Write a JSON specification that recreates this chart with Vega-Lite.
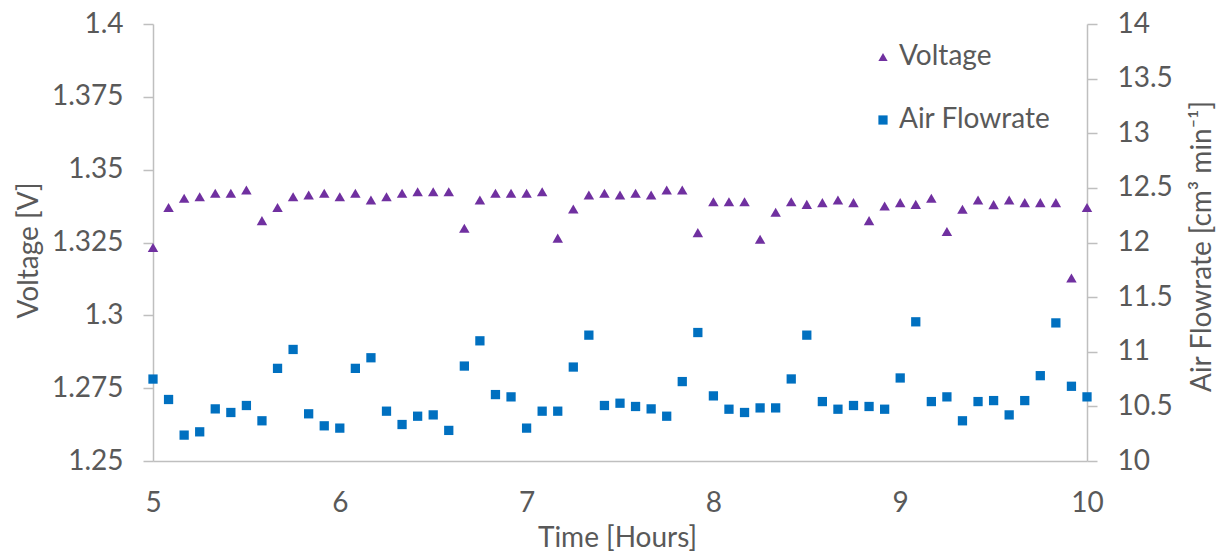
{
  "$schema": "https://vega.github.io/schema/vega-lite/v6.json",
  "width": 934,
  "height": 437,
  "autosize": {"type": "none"},
  "padding": {"left": 153, "top": 24, "right": 134, "bottom": 91},
  "background": "white",
  "config": {
    "font": "Lato",
    "view": {"stroke": null},
    "axis": {
      "grid": false,
      "domainColor": "#bfbfbf",
      "domainWidth": 1.5,
      "tickColor": "#bfbfbf",
      "tickWidth": 1.5,
      "labelFontSize": 28,
      "labelColor": "#595959",
      "titleFontSize": 28,
      "titleFontWeight": "normal",
      "titleColor": "#595959"
    }
  },
  "data": {
    "values": [
      {"time": 5.0, "series": "Voltage", "value": 1.3233},
      {"time": 5.0833, "series": "Voltage", "value": 1.337},
      {"time": 5.1667, "series": "Voltage", "value": 1.3402},
      {"time": 5.25, "series": "Voltage", "value": 1.3407},
      {"time": 5.3333, "series": "Voltage", "value": 1.3419},
      {"time": 5.4167, "series": "Voltage", "value": 1.3419},
      {"time": 5.5, "series": "Voltage", "value": 1.343},
      {"time": 5.5833, "series": "Voltage", "value": 1.3325},
      {"time": 5.6667, "series": "Voltage", "value": 1.337},
      {"time": 5.75, "series": "Voltage", "value": 1.3407},
      {"time": 5.8333, "series": "Voltage", "value": 1.3413},
      {"time": 5.9167, "series": "Voltage", "value": 1.3419},
      {"time": 6.0, "series": "Voltage", "value": 1.3407},
      {"time": 6.0833, "series": "Voltage", "value": 1.3419},
      {"time": 6.1667, "series": "Voltage", "value": 1.3396},
      {"time": 6.25, "series": "Voltage", "value": 1.3407},
      {"time": 6.3333, "series": "Voltage", "value": 1.3419},
      {"time": 6.4167, "series": "Voltage", "value": 1.3424},
      {"time": 6.5, "series": "Voltage", "value": 1.3424},
      {"time": 6.5833, "series": "Voltage", "value": 1.3424},
      {"time": 6.6667, "series": "Voltage", "value": 1.3299},
      {"time": 6.75, "series": "Voltage", "value": 1.3396},
      {"time": 6.8333, "series": "Voltage", "value": 1.3419},
      {"time": 6.9167, "series": "Voltage", "value": 1.3419},
      {"time": 7.0, "series": "Voltage", "value": 1.3419},
      {"time": 7.0833, "series": "Voltage", "value": 1.3424},
      {"time": 7.1667, "series": "Voltage", "value": 1.3265},
      {"time": 7.25, "series": "Voltage", "value": 1.3365},
      {"time": 7.3333, "series": "Voltage", "value": 1.3413},
      {"time": 7.4167, "series": "Voltage", "value": 1.3419},
      {"time": 7.5, "series": "Voltage", "value": 1.3413},
      {"time": 7.5833, "series": "Voltage", "value": 1.3419},
      {"time": 7.6667, "series": "Voltage", "value": 1.3413},
      {"time": 7.75, "series": "Voltage", "value": 1.343},
      {"time": 7.8333, "series": "Voltage", "value": 1.343},
      {"time": 7.9167, "series": "Voltage", "value": 1.3284},
      {"time": 8.0, "series": "Voltage", "value": 1.339},
      {"time": 8.0833, "series": "Voltage", "value": 1.339},
      {"time": 8.1667, "series": "Voltage", "value": 1.339},
      {"time": 8.25, "series": "Voltage", "value": 1.3261},
      {"time": 8.3333, "series": "Voltage", "value": 1.3354},
      {"time": 8.4167, "series": "Voltage", "value": 1.339},
      {"time": 8.5, "series": "Voltage", "value": 1.3381},
      {"time": 8.5833, "series": "Voltage", "value": 1.3387},
      {"time": 8.6667, "series": "Voltage", "value": 1.3396},
      {"time": 8.75, "series": "Voltage", "value": 1.3387},
      {"time": 8.8333, "series": "Voltage", "value": 1.3325},
      {"time": 8.9167, "series": "Voltage", "value": 1.3375},
      {"time": 9.0, "series": "Voltage", "value": 1.3387},
      {"time": 9.0833, "series": "Voltage", "value": 1.3381},
      {"time": 9.1667, "series": "Voltage", "value": 1.3402},
      {"time": 9.25, "series": "Voltage", "value": 1.3288},
      {"time": 9.3333, "series": "Voltage", "value": 1.3364},
      {"time": 9.4167, "series": "Voltage", "value": 1.3396},
      {"time": 9.5, "series": "Voltage", "value": 1.338},
      {"time": 9.5833, "series": "Voltage", "value": 1.3396},
      {"time": 9.6667, "series": "Voltage", "value": 1.3387},
      {"time": 9.75, "series": "Voltage", "value": 1.3387},
      {"time": 9.8333, "series": "Voltage", "value": 1.3387},
      {"time": 9.9167, "series": "Voltage", "value": 1.3128},
      {"time": 10.0, "series": "Voltage", "value": 1.337},
      {"time": 5.0, "series": "Air Flowrate", "value": 10.75},
      {"time": 5.0833, "series": "Air Flowrate", "value": 10.563},
      {"time": 5.1667, "series": "Air Flowrate", "value": 10.237},
      {"time": 5.25, "series": "Air Flowrate", "value": 10.267},
      {"time": 5.3333, "series": "Air Flowrate", "value": 10.477},
      {"time": 5.4167, "series": "Air Flowrate", "value": 10.444},
      {"time": 5.5, "series": "Air Flowrate", "value": 10.508},
      {"time": 5.5833, "series": "Air Flowrate", "value": 10.368},
      {"time": 5.6667, "series": "Air Flowrate", "value": 10.848},
      {"time": 5.75, "series": "Air Flowrate", "value": 11.021},
      {"time": 5.8333, "series": "Air Flowrate", "value": 10.432},
      {"time": 5.9167, "series": "Air Flowrate", "value": 10.322},
      {"time": 6.0, "series": "Air Flowrate", "value": 10.301},
      {"time": 6.0833, "series": "Air Flowrate", "value": 10.848},
      {"time": 6.1667, "series": "Air Flowrate", "value": 10.945},
      {"time": 6.25, "series": "Air Flowrate", "value": 10.456},
      {"time": 6.3333, "series": "Air Flowrate", "value": 10.334},
      {"time": 6.4167, "series": "Air Flowrate", "value": 10.41},
      {"time": 6.5, "series": "Air Flowrate", "value": 10.422},
      {"time": 6.5833, "series": "Air Flowrate", "value": 10.28},
      {"time": 6.6667, "series": "Air Flowrate", "value": 10.869},
      {"time": 6.75, "series": "Air Flowrate", "value": 11.1},
      {"time": 6.8333, "series": "Air Flowrate", "value": 10.608},
      {"time": 6.9167, "series": "Air Flowrate", "value": 10.587},
      {"time": 7.0, "series": "Air Flowrate", "value": 10.301},
      {"time": 7.0833, "series": "Air Flowrate", "value": 10.456},
      {"time": 7.1667, "series": "Air Flowrate", "value": 10.456},
      {"time": 7.25, "series": "Air Flowrate", "value": 10.86},
      {"time": 7.3333, "series": "Air Flowrate", "value": 11.152},
      {"time": 7.4167, "series": "Air Flowrate", "value": 10.508},
      {"time": 7.5, "series": "Air Flowrate", "value": 10.529},
      {"time": 7.5833, "series": "Air Flowrate", "value": 10.499},
      {"time": 7.6667, "series": "Air Flowrate", "value": 10.477},
      {"time": 7.75, "series": "Air Flowrate", "value": 10.41},
      {"time": 7.8333, "series": "Air Flowrate", "value": 10.727},
      {"time": 7.9167, "series": "Air Flowrate", "value": 11.176},
      {"time": 8.0, "series": "Air Flowrate", "value": 10.596},
      {"time": 8.0833, "series": "Air Flowrate", "value": 10.474},
      {"time": 8.1667, "series": "Air Flowrate", "value": 10.444},
      {"time": 8.25, "series": "Air Flowrate", "value": 10.486},
      {"time": 8.3333, "series": "Air Flowrate", "value": 10.486},
      {"time": 8.4167, "series": "Air Flowrate", "value": 10.751},
      {"time": 8.5, "series": "Air Flowrate", "value": 11.152},
      {"time": 8.5833, "series": "Air Flowrate", "value": 10.544},
      {"time": 8.6667, "series": "Air Flowrate", "value": 10.474},
      {"time": 8.75, "series": "Air Flowrate", "value": 10.508},
      {"time": 8.8333, "series": "Air Flowrate", "value": 10.499},
      {"time": 8.9167, "series": "Air Flowrate", "value": 10.474},
      {"time": 9.0, "series": "Air Flowrate", "value": 10.76},
      {"time": 9.0833, "series": "Air Flowrate", "value": 11.274},
      {"time": 9.1667, "series": "Air Flowrate", "value": 10.544},
      {"time": 9.25, "series": "Air Flowrate", "value": 10.587},
      {"time": 9.3333, "series": "Air Flowrate", "value": 10.368},
      {"time": 9.4167, "series": "Air Flowrate", "value": 10.544},
      {"time": 9.5, "series": "Air Flowrate", "value": 10.553},
      {"time": 9.5833, "series": "Air Flowrate", "value": 10.422},
      {"time": 9.6667, "series": "Air Flowrate", "value": 10.553},
      {"time": 9.75, "series": "Air Flowrate", "value": 10.781},
      {"time": 9.8333, "series": "Air Flowrate", "value": 11.264},
      {"time": 9.9167, "series": "Air Flowrate", "value": 10.684},
      {"time": 10.0, "series": "Air Flowrate", "value": 10.587}
    ]
  },
  "encoding": {
    "x": {
      "field": "time",
      "type": "quantitative",
      "scale": {"domain": [5, 10], "nice": false, "zero": false},
      "axis": {
        "title": "Time [Hours]",
        "values": [5, 6, 7, 8, 9, 10],
        "ticks": false,
        "tickSize": 0,
        "labelPadding": 28,
        "labelFlush": false,
        "titleX": 464,
        "titleY": 85,
        "titleAlign": "center",
        "titleBaseline": "alphabetic"
      }
    },
    "color": {
      "field": "series",
      "type": "nominal",
      "scale": {"domain": ["Voltage", "Air Flowrate"], "range": ["#7030A0", "#0070C0"]},
      "legend": {
        "orient": "none",
        "legendX": 716,
        "legendY": 19,
        "title": null,
        "padding": 0,
        "labelFontSize": 28,
        "labelColor": "#595959",
        "symbolSize": 85,
        "symbolStrokeWidth": 0,
        "rowPadding": 35,
        "labelOffset": 2
      }
    },
    "shape": {
      "field": "series",
      "type": "nominal",
      "scale": {"domain": ["Voltage", "Air Flowrate"], "range": ["triangle-up", "square"]}
    }
  },
  "layer": [
    {
      "transform": [{"filter": "datum.series === 'Voltage'"}],
      "mark": {"type": "point", "filled": true, "size": 110, "opacity": 1},
      "encoding": {
        "y": {
          "field": "value",
          "type": "quantitative",
          "scale": {"domain": [1.25, 1.4], "nice": false, "zero": false},
          "axis": {
            "orient": "left",
            "title": "Voltage [V]",
            "values": [1.25, 1.275, 1.3, 1.325, 1.35, 1.375, 1.4],
            "format": ".3~f",
            "tickSize": 10,
            "labelPadding": 20,
            "titleAngle": 270,
            "titleX": -116,
            "titleY": 226,
            "titleAlign": "center",
            "titleBaseline": "alphabetic"
          }
        }
      }
    },
    {
      "transform": [{"filter": "datum.series === 'Air Flowrate'"}],
      "mark": {"type": "point", "filled": true, "size": 86, "opacity": 1},
      "encoding": {
        "y": {
          "field": "value",
          "type": "quantitative",
          "scale": {"domain": [10, 14], "nice": false, "zero": false},
          "axis": {
            "orient": "right",
            "title": "Air Flowrate [cm³ min⁻¹]",
            "values": [10, 10.5, 11, 11.5, 12, 12.5, 13, 13.5, 14],
            "format": ".1~f",
            "tickSize": 10,
            "labelPadding": 20,
            "titleAngle": 270,
            "titleX": 123,
            "titleY": 222,
            "titleAlign": "center",
            "titleBaseline": "alphabetic"
          }
        }
      }
    }
  ],
  "resolve": {"scale": {"y": "independent"}}
}
